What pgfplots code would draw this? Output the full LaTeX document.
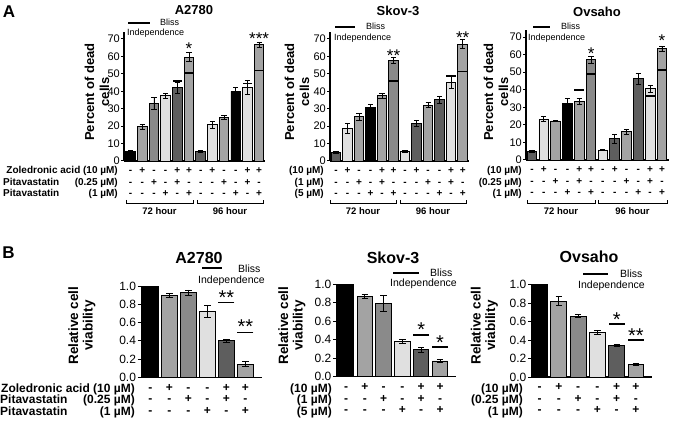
\documentclass[border=0pt]{standalone}
\usepackage{pgfplots}
\pgfplotsset{compat=1.18}
\usepackage{fontspec}
\setmainfont{Liberation Sans}
\definecolor{cK}{HTML}{000000}
\definecolor{cD}{HTML}{5E5E5E}
\definecolor{cM}{HTML}{8A8A8A}
\definecolor{cG}{HTML}{A3A3A3}
\definecolor{cL}{HTML}{E0E0E0}
\newcommand\TL[3]{\strut#1\\\strut#2\\\strut#3}
\pgfplotsset{
 panelA/.style={scale only axis, anchor=south west, ymin=0, ymax=74,
  axis x line*=bottom, axis y line*=left, axis line style={line width=1.1pt,-},
  ytick={0,10,...,70}, tick align=outside, major tick length=3pt,
  y tick style={line width=1pt,black},
  xtick={1,...,12}, x tick style={draw=none},
  xticklabels={\TL{-}{-}{-},\TL{+}{-}{-},\TL{-}{+}{-},\TL{-}{-}{+},\TL{+}{+}{-},\TL{+}{-}{+},\TL{-}{-}{-},\TL{+}{-}{-},\TL{-}{+}{-},\TL{-}{-}{+},\TL{+}{+}{-},\TL{+}{-}{+}},
  xticklabel style={font=\bfseries\fontsize{10}{11.5}\selectfont, align=center, inner sep=0pt, yshift=-1.4pt},
  yticklabel style={font=\fontsize{11}{13}\selectfont, inner sep=1pt},
  /pgf/number format/assume math mode=true, clip=false},
 panelB/.style={scale only axis, anchor=south west, ymin=0, ymax=1,
  axis x line*=bottom, axis y line*=left, axis line style={line width=1.1pt,-},
  ytick={0,0.2,0.4,0.6,0.8,1.0}, tick align=outside, major tick length=4pt,
  y tick style={line width=1pt,black},
  xtick={1,...,6}, x tick style={draw=none},
  xticklabels={\TL{-}{-}{-},\TL{+}{-}{-},\TL{-}{+}{-},\TL{-}{-}{+},\TL{+}{+}{-},\TL{+}{-}{+}},
  xticklabel style={font=\bfseries\fontsize{12}{11.5}\selectfont, align=center, inner sep=0pt, yshift=-1.7pt},
  yticklabel style={font=\fontsize{12}{14}\selectfont, inner sep=1.5pt, /pgf/number format/fixed, /pgf/number format/fixed zerofill, /pgf/number format/precision=1},
  /pgf/number format/assume math mode=true, clip=false},
 mybar/.style={ybar, bar shift=0pt, bar width=0.82, draw=black, line width=0.9pt, fill=#1,
  error bars/.cd, y dir=both, y explicit, error bar style={line width=0.8pt, black},
  error mark options={rotate=90, line width=0.8pt, mark size=2.6pt, black}},
 mybarB/.style={ybar, bar shift=0pt, bar width=0.82, draw=black, line width=0.9pt, fill=#1,
  error bars/.cd, y dir=both, y explicit, error bar style={line width=0.8pt, black},
  error mark options={rotate=90, line width=0.8pt, mark size=3.2pt, black}},
 bliss/.style={only marks, mark=-, mark size=#1, mark options={line width=1.7pt, black}},
}
\tikzset{
 starA/.style={anchor=base, inner sep=0pt, font=\fontsize{17}{17}\selectfont, yshift=-9.9pt},
 starB/.style={anchor=base, inner sep=0pt, font=\fontsize{20}{20}\selectfont, yshift=-11.6pt},
 ttlA/.style={font=\bfseries\fontsize{13}{15}\selectfont, inner sep=0pt},
 ttlB/.style={font=\bfseries\fontsize{16}{18}\selectfont, inner sep=0pt},
 ylA/.style={font=\bfseries\fontsize{13}{15}\selectfont, rotate=90, align=center, inner sep=0pt},
 ylB/.style={font=\bfseries\fontsize{13.5}{14.5}\selectfont, rotate=90, align=center, inner sep=0pt},
 rowA/.style={font=\bfseries\fontsize{10}{12}\selectfont, inner sep=0pt},
 rowB/.style={font=\bfseries\fontsize{12}{14}\selectfont, inner sep=0pt},
 legA/.style={font=\fontsize{9}{11}\selectfont, inner sep=0pt, anchor=west},
 legB/.style={font=\fontsize{10.5}{12}\selectfont, inner sep=0pt, anchor=west},
 hr/.style={font=\bfseries\fontsize{9.5}{11}\selectfont, inner sep=0pt},
}
\begin{document}
\begin{tikzpicture}
\path[use as bounding box] (0pt,0pt) rectangle (675pt,421pt);
% ---------------- Panel A ----------------
\node[font=\bfseries\fontsize{17}{19}\selectfont, inner sep=0pt] at (9pt,409pt) {A};
\node[ttlA] at (194pt,411pt) {A2780};
\node[ttlA] at (398pt,410pt) {Skov-3};
\node[ttlA] at (597pt,409pt) {Ovsaho};

% A2780 A
\begin{axis}[panelA, at={(124pt,260pt)}, width=141pt, height=129pt, xmin=0.44, xmax=12.5]
\addplot[mybar=cK] coordinates {(1,5.5) +- (0,0.5) (10,40) +- (0,2)};
\addplot[mybar=cG] coordinates {(2,19.6) +- (0,1.5) (6,59.6) +- (0,2.5) (9,25) +- (0,1) (12,66.8) +- (0,1.5)};
\addplot[mybar=cM] coordinates {(3,33) +- (0,3.5)};
\addplot[mybar=cL] coordinates {(4,37.4) +- (0,1.5) (8,20.7) +- (0,2) (11,42) +- (0,4)};
\addplot[mybar=cD] coordinates {(5,42) +- (0,3) (7,5.4) +- (0,0.4)};
\addplot[bliss=4.8pt] coordinates {(5,45.8) (6,50.5) (11,44.5) (12,52)};
\node[starA] at (axis cs:6,66.7) {*};
\node[starA] at (axis cs:12,72.6) {***};
\end{axis}

% Skov-3 A
\begin{axis}[panelA, at={(330pt,260pt)}, width=139pt, height=129pt, xmin=0.48, xmax=12.55]
\addplot[mybar=cD] coordinates {(1,5) +- (0,0.5) (8,21.4) +- (0,1.8) (10,35.2) +- (0,2)};
\addplot[mybar=cL] coordinates {(2,18.6) +- (0,3) (7,5.5) +- (0,0.5) (11,45) +- (0,3.5)};
\addplot[mybar=cG] coordinates {(3,25.3) +- (0,2) (5,37.4) +- (0,1.5) (9,32) +- (0,1.5) (12,67) +- (0,2.5)};
\addplot[mybar=cK] coordinates {(4,31) +- (0,1.5)};
\addplot[mybar=cM] coordinates {(6,57.7) +- (0,1.5)};
\addplot[bliss=4.7pt] coordinates {(5,35.9) (6,46) (11,48.6) (12,51.3)};
\node[starA] at (axis cs:6,62.5) {**};
\node[starA] at (axis cs:12,73) {**};
\end{axis}

% Ovsaho A
\begin{axis}[panelA, at={(526pt,261pt)}, width=143pt, height=130pt, xmin=0.49, xmax=12.6]
\addplot[mybar=cD] coordinates {(1,5) +- (0,0.7) (8,12.2) +- (0,2.5) (10,46.3) +- (0,3)};
\addplot[mybar=cL] coordinates {(2,23.3) +- (0,1.5) (7,5.7) +- (0,0.5) (11,40.5) +- (0,2)};
\addplot[mybar=cG] coordinates {(3,22.2) +- (0,0.5) (5,33.4) +- (0,1.5) (9,16) +- (0,1.5) (12,63.4) +- (0,1.5)};
\addplot[mybar=cK] coordinates {(4,32.4) +- (0,2.5)};
\addplot[mybar=cM] coordinates {(6,57) +- (0,2)};
\addplot[bliss=4.8pt] coordinates {(5,40) (6,48.8) (11,36.4) (12,51.3)};
\node[starA] at (axis cs:6,63) {*};
\node[starA] at (axis cs:12,70.5) {*};
\end{axis}

% y labels A
\node[ylA] at (97pt,329pt) {Percent of dead\\cells};
\node[ylA] at (297pt,329pt) {Percent of dead\\cells};
\node[ylA] at (496pt,329pt) {Percent of dead\\cells};

% legends A
\draw[line width=1.7pt] (128pt,398.3pt) -- (150pt,398.3pt);
\node[legA] at (160pt,399pt) {Bliss};
\node[legA] at (127pt,388pt) {Independence};
\draw[line width=1.7pt] (335pt,394.3pt) -- (355pt,394.3pt);
\node[legA] at (366pt,395pt) {Bliss};
\node[legA] at (334pt,383.3pt) {Independence};
\draw[line width=1.7pt] (533pt,394.3pt) -- (550pt,394.3pt);
\node[legA] at (561pt,395pt) {Bliss};
\node[legA] at (528pt,383.3pt) {Independence};

% row labels A
\node[rowA, anchor=base east] at (118pt,247.4pt) {Zoledronic acid (10 µM)};
\node[rowA, anchor=base west] at (3pt,235.4pt) {Pitavastatin};
\node[rowA, anchor=base east] at (118pt,235.4pt) {(0.25 µM)};
\node[rowA, anchor=base west] at (3pt,224.4pt) {Pitavastatin};
\node[rowA, anchor=base east] at (118pt,224.4pt) {(1 µM)};
\node[rowA, anchor=base east] at (324pt,247.4pt) {(10 µM)};
\node[rowA, anchor=base east] at (324pt,235.4pt) {(1 µM)};
\node[rowA, anchor=base east] at (324pt,224.4pt) {(5 µM)};
\node[rowA, anchor=base east] at (522pt,247.4pt) {(10 µM)};
\node[rowA, anchor=base east] at (522pt,235.4pt) {(0.25 µM)};
\node[rowA, anchor=base east] at (522pt,224.4pt) {(1 µM)};

% brackets A
\draw[line width=0.9pt] (126pt,221pt) -- (126pt,218pt) -- (193pt,218pt) -- (193pt,221pt);
\draw[line width=0.9pt] (197pt,221pt) -- (197pt,218pt) -- (263pt,218pt) -- (263pt,221pt);
\node[hr] at (159.5pt,210pt) {72 hour};
\node[hr] at (230pt,210pt) {96 hour};
\draw[line width=0.9pt] (330pt,221pt) -- (330pt,218pt) -- (396pt,218pt) -- (396pt,221pt);
\draw[line width=0.9pt] (400pt,221pt) -- (400pt,218pt) -- (466pt,218pt) -- (466pt,221pt);
\node[hr] at (363pt,210pt) {72 hour};
\node[hr] at (433pt,210pt) {96 hour};
\draw[line width=0.9pt] (527pt,221pt) -- (527pt,218pt) -- (595pt,218pt) -- (595pt,221pt);
\draw[line width=0.9pt] (598pt,221pt) -- (598pt,218pt) -- (667pt,218pt) -- (667pt,221pt);
\node[hr] at (561pt,210pt) {72 hour};
\node[hr] at (632.5pt,210pt) {96 hour};

% ---------------- Panel B ----------------
\node[font=\bfseries\fontsize{17}{19}\selectfont, inner sep=0pt] at (8.5pt,168.5pt) {B};
\node[ttlB] at (199pt,163pt) {A2780};
\node[ttlB] at (393pt,163pt) {Skov-3};
\node[ttlB] at (589pt,164pt) {Ovsaho};

% A2780 B
\begin{axis}[panelB, at={(141.7pt,43.7pt)}, width=120.3pt, height=91.3pt, xmin=0.537, xmax=6.87]
\addplot[mybarB=cK] coordinates {(1,1.0) +- (0,0)};
\addplot[mybarB=cG] coordinates {(2,0.895) +- (0,0.025) (6,0.145) +- (0,0.025)};
\addplot[mybarB=cM] coordinates {(3,0.927) +- (0,0.03)};
\addplot[mybarB=cL] coordinates {(4,0.72) +- (0,0.065)};
\addplot[mybarB=cD] coordinates {(5,0.40) +- (0,0.015)};
\addplot[bliss=8pt] coordinates {(5,0.82) (6,0.49)};
\node[starB] at (axis cs:5,0.923) {**};
\node[starB] at (axis cs:6,0.606) {**};
\end{axis}

% Skov-3 B
\begin{axis}[panelB, at={(337pt,44.3pt)}, width=119pt, height=92.4pt, xmin=0.52, xmax=6.85]
\addplot[mybarB=cK] coordinates {(1,1.0) +- (0,0)};
\addplot[mybarB=cG] coordinates {(2,0.87) +- (0,0.02) (6,0.17) +- (0,0.02)};
\addplot[mybarB=cM] coordinates {(3,0.79) +- (0,0.085)};
\addplot[mybarB=cL] coordinates {(4,0.38) +- (0,0.02)};
\addplot[mybarB=cD] coordinates {(5,0.29) +- (0,0.03)};
\addplot[bliss=8pt] coordinates {(5,0.45) (6,0.32)};
\node[starB] at (axis cs:5,0.56) {*};
\node[starB] at (axis cs:6,0.42) {*};
\end{axis}

% Ovsaho B
\begin{axis}[panelB, at={(532pt,44pt)}, width=120pt, height=92.5pt, xmin=0.61, xmax=6.83]
\addplot[mybarB=cK] coordinates {(1,1.0) +- (0,0)};
\addplot[mybarB=cG] coordinates {(2,0.82) +- (0,0.05) (6,0.14) +- (0,0.01)};
\addplot[mybarB=cM] coordinates {(3,0.66) +- (0,0.02)};
\addplot[mybarB=cL] coordinates {(4,0.48) +- (0,0.02)};
\addplot[mybarB=cD] coordinates {(5,0.34) +- (0,0.01)};
\addplot[bliss=8pt] coordinates {(5,0.57) (6,0.40)};
\node[starB] at (axis cs:5,0.67) {*};
\node[starB] at (axis cs:6,0.50) {**};
\end{axis}

% y labels B
\node[ylB] at (82pt,95.5pt) {Relative cell\\viability};
\node[ylB] at (292pt,95.5pt) {Relative cell\\viability};
\node[ylB] at (484.5pt,95.5pt) {Relative cell\\viability};

% legends B
\draw[line width=1.7pt] (202pt,153pt) -- (222pt,153pt);
\node[legB] at (238pt,152.5pt) {Bliss};
\node[legB] at (198pt,140.5pt) {Independence};
\draw[line width=1.7pt] (393pt,148.3pt) -- (419pt,148.3pt);
\node[legB] at (430pt,148pt) {Bliss};
\node[legB] at (390pt,137pt) {Independence};
\draw[line width=1.7pt] (583pt,147pt) -- (608pt,147pt);
\node[legB] at (620pt,147pt) {Bliss};
\node[legB] at (578pt,135.5pt) {Independence};

% row labels B
\node[rowB, anchor=base east] at (135pt,28.7pt) {Zoledronic acid (10 µM)};
\node[rowB, anchor=base west] at (0pt,17.2pt) {Pitavastatin};
\node[rowB, anchor=base east] at (135pt,17.2pt) {(0.25 µM)};
\node[rowB, anchor=base west] at (0pt,5.7pt) {Pitavastatin};
\node[rowB, anchor=base east] at (135pt,5.7pt) {(1 µM)};
\node[rowB, anchor=base east] at (332pt,28.7pt) {(10 µM)};
\node[rowB, anchor=base east] at (332pt,17.2pt) {(1 µM)};
\node[rowB, anchor=base east] at (332pt,5.7pt) {(5 µM)};
\node[rowB, anchor=base east] at (523pt,28.7pt) {(10 µM)};
\node[rowB, anchor=base east] at (523pt,17.2pt) {(0.25 µM)};
\node[rowB, anchor=base east] at (523pt,5.7pt) {(1 µM)};
\end{tikzpicture}
\end{document}
